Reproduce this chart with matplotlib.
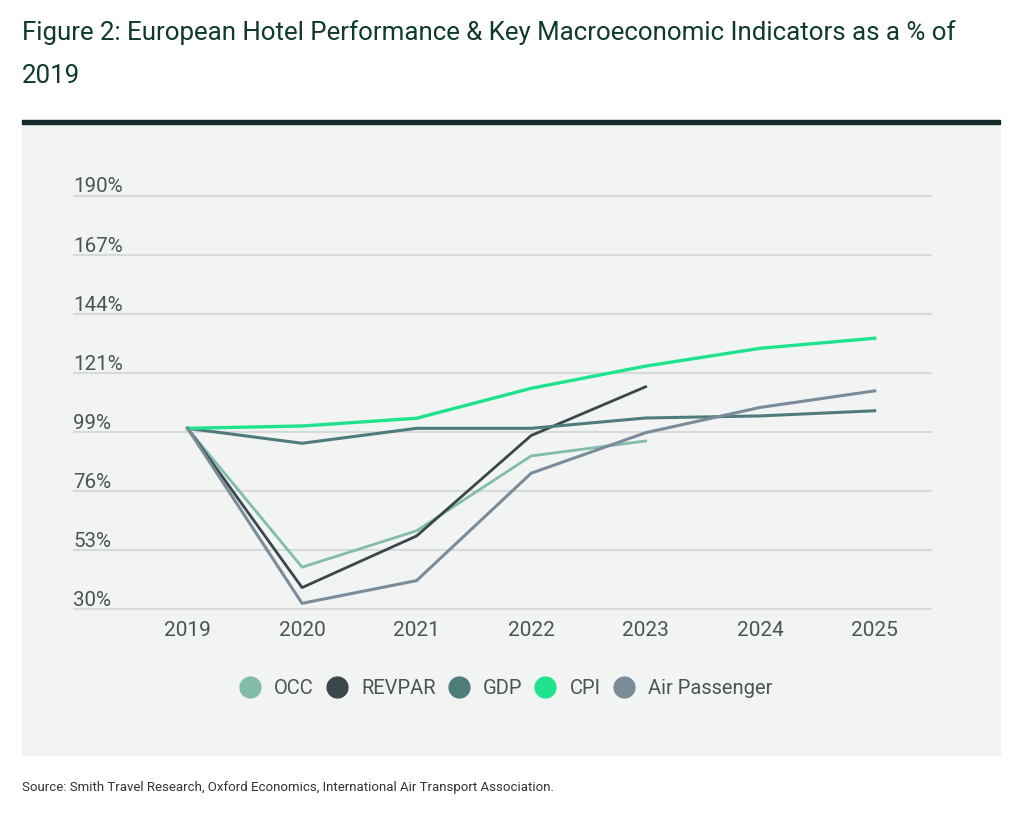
import matplotlib.pyplot as plt
from matplotlib.lines import Line2D
from matplotlib.patches import Rectangle
import matplotlib.transforms as mtransforms

plt.rcParams["font.family"] = ["Roboto", "DejaVu Sans"]

years = [2019, 2020, 2021, 2022, 2023, 2024, 2025]
occ = [100, 46.2, 60.3, 89.3, 95.1]
revpar = [100, 38.3, 58.3, 97.2, 116.1]
gdp = [100, 94.2, 100, 100, 104, 104.8, 106.8]
cpi = [100, 100.9, 103.9, 115.5, 124.1, 131, 134.9]
air_passenger = [100, 32.2, 41, 82.6, 98.3, 108.1, 114.5]

ytick_values = [30 + i * 160 / 7 for i in range(8)]
ytick_labels = ["30%", "53%", "76%", "99%", "121%", "144%", "167%", "190%"]

series = [
    ("OCC", occ, "#82bcaa", 2.0),
    ("REVPAR", revpar, "#39474b", 2.0),
    ("GDP", gdp, "#4e7c7b", 2.2),
    ("CPI", cpi, "#1ee38c", 2.4),
    ("Air Passenger", air_passenger, "#7a8c99", 2.2),
]

W, H = 1024, 815
fig = plt.figure(figsize=(W / 100, H / 100), dpi=100)
fig.patch.set_facecolor("white")

# grey panel and dark rule under the title
fig.patches.append(Rectangle((22 / W, 1 - 755 / H), 978 / W, 631 / H,
                             transform=fig.transFigure, color="#f2f4f4", zorder=-2))
fig.patches.append(Rectangle((22 / W, 1 - 124 / H), 978 / W, 4.5 / H,
                             transform=fig.transFigure, color="#14282a", zorder=-1))

fig.text(22 / W, 1 - 33 / H, "Figure 2: European Hotel Performance & Key Macroeconomic Indicators as a % of",
         fontsize=18.6, color="#103a2c", va="center", ha="left")
fig.text(22 / W, 1 - 76 / H, "2019", fontsize=18.6, color="#103a2c", va="center", ha="left")
fig.text(22 / W, 1 - 787 / H,
         "Source: Smith Travel Research, Oxford Economics, International Air Transport Association.",
         fontsize=9.5, color="#333333", va="center", ha="left")

ax = fig.add_axes([73 / W, 1 - 611.6 / H, 859 / W, 418.2 / H])
ax.set_zorder(2)
ax.set_facecolor("none")
for s in ax.spines.values():
    s.set_visible(False)

for label, vals, color, lw in series:
    ax.plot(years[:len(vals)], vals, color=color, linewidth=lw, label=label, zorder=3)

ax.set_xlim(2018.0, 2025.5)
ax.set_ylim(29, 191)
ax.set_yticks(ytick_values)
ax.set_yticklabels([])
ax.grid(axis="y", color="#d6dada", linewidth=1.5)
ax.tick_params(axis="both", length=0)
ax.set_xticks(years)
ax.set_xticklabels([str(y) for y in years], fontsize=15, color="#4a5355")
ax.tick_params(axis="x", pad=7)

trans = mtransforms.blended_transform_factory(ax.transAxes, ax.transData)
for v, lab in zip(ytick_values, ytick_labels):
    ax.text(0, v - 0.2, lab, transform=trans, ha="left", va="bottom",
            fontsize=14.8, color="#4a5355")

handles = [Line2D([], [], marker="o", linestyle="", markersize=15, color=c)
           for _, _, c, _ in series]
fig.legend(handles, [s[0] for s in series], loc="center", ncol=5, frameon=False,
           bbox_to_anchor=(505 / W, 1 - 689 / H), fontsize=14.5, handlelength=1.2,
           handletextpad=0.6, columnspacing=0.55, labelcolor="#4a5355")

fig.savefig("out.png", dpi=100)
